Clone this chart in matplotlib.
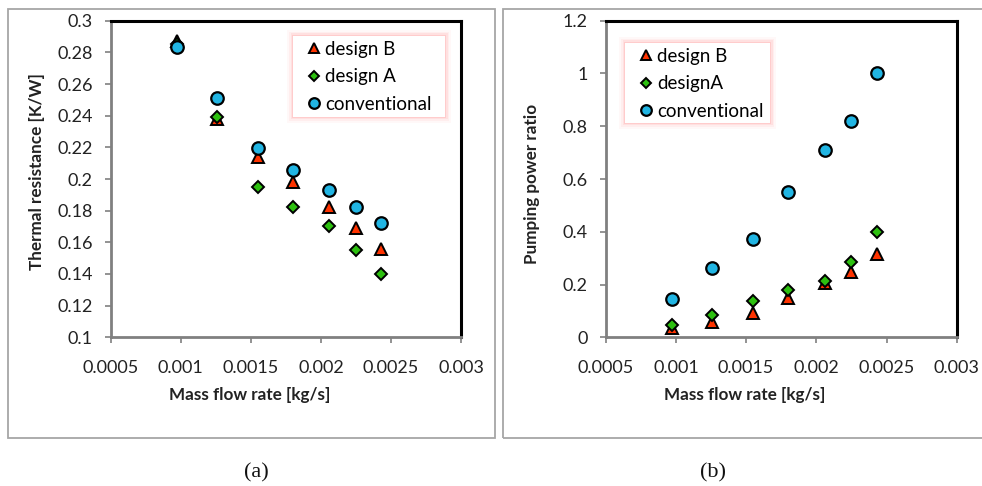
import matplotlib
matplotlib.use("Agg")
import matplotlib.pyplot as plt
import matplotlib.patches as mpatches
from matplotlib.ticker import FuncFormatter
import numpy as np

plt.rcParams['font.family'] = ['Lato', 'DejaVu Sans']

# mass flow rate [kg/s]
flow = [0.00097, 0.00126, 0.00155, 0.00180, 0.00206, 0.00225, 0.00243]

# thermal resistance [K/W]
rth_b = [0.287, 0.238, 0.214, 0.198, 0.182, 0.169, 0.156]
rth_a = [0.285, 0.239, 0.195, 0.1825, 0.170, 0.155, 0.140]
rth_conv = [0.2836, 0.2514, 0.2194, 0.206, 0.1928, 0.1825, 0.172]

# pumping power ratio
pp_b = [0.037, 0.058, 0.093, 0.148, 0.207, 0.246, 0.315]
pp_a = [0.047, 0.085, 0.139, 0.178, 0.215, 0.285, 0.398]
pp_conv = [0.145, 0.264, 0.371, 0.551, 0.711, 0.821, 1.0]

x_ticks = [0.0005, 0.001, 0.0015, 0.002, 0.0025, 0.003]
x_labels = ['0.0005', '0.001', '0.0015', '0.002', '0.0025', '0.003']

RED = '#FF3300'
GREEN = '#2DC010'
CYAN = '#21B5E3'

fig = plt.figure(figsize=(9.82, 4.86), dpi=100)
W, H = 982.0, 486.0

# grey frames around each chart
for x0, x1 in [(8, 495), (503, 990)]:
    fig.patches.append(mpatches.Rectangle((x0 / W, 1 - 438 / H), (x1 - x0) / W, (438 - 9) / H,
                                          transform=fig.transFigure, fill=False,
                                          edgecolor='#A6A6A6', lw=1.3))


def style_axes(ax):
    for s in ['top', 'right']:
        ax.spines[s].set_color('black')
        ax.spines[s].set_linewidth(2.2)
    for s in ['left', 'bottom']:
        ax.spines[s].set_color('#808080')
        ax.spines[s].set_linewidth(2.0)
    ax.tick_params(direction='out', length=4, width=1.2, color='#808080',
                   labelsize=13, labelcolor='#222222')
    ax.tick_params(axis='y', pad=9)
    ax.tick_params(axis='x', pad=12)
    ax.set_xlim(0.0005, 0.003)
    ax.set_xticks(x_ticks)
    ax.set_xticklabels(x_labels)
    ax.yaxis.set_major_formatter(FuncFormatter(lambda v, p: '{:g}'.format(round(v, 3))))


def draw_series(ax, yb, ya, yc, names):
    ax.plot(flow, yb, ls='none', marker='^', ms=9, mfc=RED, mec='black', mew=1.4, label=names[0])
    ax.plot(flow, ya, ls='none', marker='D', ms=6.5, mfc=GREEN, mec='black', mew=1.4, label=names[1])
    ax.plot(flow, yc, ls='none', marker='o', ms=9, mfc=CYAN, mec='black', mew=1.6, label=names[2])


def glow_legend(ax, box):
    # box in pixel coords (left, top, right, bottom); soft pink halo behind a white legend
    x0, y0, x1, y1 = box
    for pad, a in [(6, 0.05), (4, 0.08), (2.5, 0.12), (1.2, 0.2)]:
        r = mpatches.Rectangle(((x0 - pad) / W, 1 - (y1 + pad) / H),
                               (x1 - x0 + 2 * pad) / W, (y1 - y0 + 2 * pad) / H,
                               transform=fig.transFigure, facecolor='#FF8080',
                               edgecolor='none', alpha=a, zorder=8, clip_on=False)
        ax.add_artist(r)
    ax.add_artist(mpatches.Rectangle((x0 / W, 1 - y1 / H), (x1 - x0) / W, (y1 - y0) / H,
                                     transform=fig.transFigure, facecolor='white',
                                     edgecolor='none', zorder=9, clip_on=False))
    leg = ax.legend(loc='upper left', bbox_to_anchor=((x0 + 13) / W, 1 - (y0 + 5) / H),
                    bbox_transform=fig.transFigure, frameon=False,
                    fontsize=13.5, handletextpad=0.15, handlelength=0.85, borderpad=0,
                    labelspacing=0.55, borderaxespad=0, markerscale=0.85)
    leg.set_zorder(10)


# (a) thermal resistance
ax1 = fig.add_axes([110.7 / W, 1 - 337.3 / H, 350.3 / W, 316.6 / H])
draw_series(ax1, rth_b, rth_a, rth_conv, ['design B', 'design A', 'conventional'])
style_axes(ax1)
ax1.set_ylim(0.1, 0.3)
ax1.set_yticks(np.arange(0.1, 0.301, 0.02))
glow_legend(ax1, (293, 36, 445, 117))

# (b) pumping power ratio
ax2 = fig.add_axes([605.7 / W, 1 - 337.3 / H, 351 / W, 316.6 / H])
draw_series(ax2, pp_b, pp_a, pp_conv, ['design B', 'designA', 'conventional'])
style_axes(ax2)
ax2.set_ylim(0, 1.2)
ax2.set_yticks(np.arange(0, 1.201, 0.2))
glow_legend(ax2, (625, 43, 770, 123))

lab = dict(fontsize=12.3, fontweight='bold', color='#222222')
fig.text(250 / W, 1 - 395 / H, 'Mass flow rate [kg/s]', ha='center', va='center', **lab)
fig.text(745 / W, 1 - 395 / H, 'Mass flow rate [kg/s]', ha='center', va='center', **lab)
fig.text(37 / W, 1 - 172 / H, 'Thermal resistance [K/W]', ha='center', va='center', rotation=90, **lab)
fig.text(532 / W, 1 - 184 / H, 'Pumping power ratio', ha='center', va='center', rotation=90, **lab)

cap = dict(fontsize=16, family='Liberation Serif', ha='center', va='center', color='#111111')
fig.text(256 / W, 1 - 473 / H, '(a)', **cap)
fig.text(713 / W, 1 - 473 / H, '(b)', **cap)

fig.savefig('out.png', dpi=100)
